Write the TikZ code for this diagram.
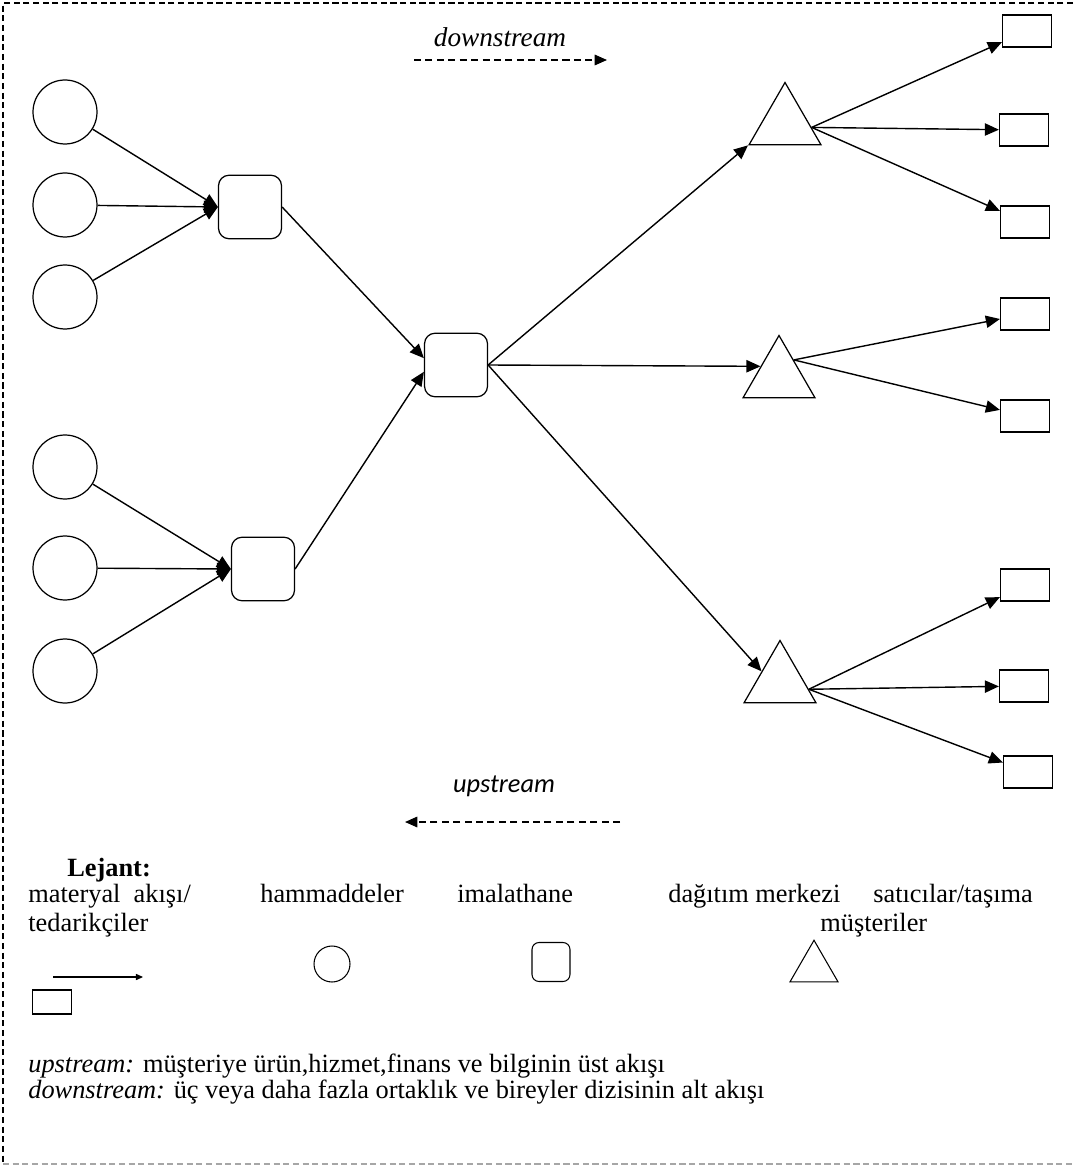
\documentclass[tikz,border=0pt]{standalone}
\usepackage{fontspec}
\setmainfont{Liberation Serif}
\newfontfamily\calibrifont{Carlito}
\usetikzlibrary{shapes.geometric, arrows.meta, calc}

\begin{document}
\begin{tikzpicture}[x=0.02cm, y=-0.02cm,
            hamm/.style={circle, draw, line width=0.7pt, minimum size=1.28cm, inner sep=0pt},
            imal/.style={rectangle, rounded corners=6pt, draw, line width=0.7pt,
                         minimum width=1.26cm, minimum height=1.27cm},
            dagit/.style={regular polygon, regular polygon sides=3, draw, line width=0.7pt,
                          minimum size=1.66cm, inner sep=0pt},
            must/.style={rectangle, draw, line width=0.7pt, minimum width=0.98cm, minimum height=0.64cm},
            arrow/.style={-{Triangle[length=8pt, width=7pt]}, line width=0.8pt},
            flow/.style={-{Triangle[length=7pt, width=6pt]}, line width=0.8pt, dash pattern=on 4pt off 2.5pt},
            border/.style={line width=0.6pt, dash pattern=on 3.5pt off 2pt},
            lbl/.style={font=\fontsize{15}{17}\selectfont, inner sep=0pt, anchor=base west}
        ]
            \useasboundingbox (0,0) rectangle (1073,1168);

            % frame
            \draw[border] (1073,3) -- (3,3) -- (3,1164);
            \draw[border, gray!70] (3,1164) -- (1073,1164);

            % hammaddeler
            \node[hamm] (r1) at (65,112) {};
            \node[hamm] (r2) at (65,205) {};
            \node[hamm] (r3) at (65,297) {};
            \node[hamm] (r4) at (65,467) {};
            \node[hamm] (r5) at (65,568) {};
            \node[hamm] (r6) at (65,671) {};

            % imalathaneler
            \node[imal] (m1) at (250,207) {};
            \node[imal] (m2) at (263,569) {};
            \node[imal] (m3) at (456,365) {};

            % dagitim merkezleri
            \node[dagit] (d1) at (785,124) {};
            \node[dagit] (d2) at (779,377) {};
            \node[dagit] (d3) at (780,682) {};
            \coordinate (d1o) at ($(d1.corner 1)!0.72!(d1.corner 3)$);
            \coordinate (d2o) at ($(d2.corner 1)!0.4!(d2.corner 3)$);
            \coordinate (d3o) at ($(d3.corner 1)!0.78!(d3.corner 3)$);

            % musteriler
            \node[must] (c1) at (1027,31) {};
            \node[must] (c2) at (1024,130) {};
            \node[must] (c3) at (1025,222) {};
            \node[must] (c4) at (1025,314) {};
            \node[must] (c5) at (1025,416) {};
            \node[must] (c6) at (1025,585) {};
            \node[must] (c7) at (1024,686) {};
            \node[must] (c8) at (1028,772) {};

            \draw[arrow] (r1) -- (m1.west);
            \draw[arrow] (r2) -- (m1.west);
            \draw[arrow] (r3) -- (m1.west);
            \draw[arrow] (r4) -- (m2.west);
            \draw[arrow] (r5) -- (m2.west);
            \draw[arrow] (r6) -- (m2.west);

            \draw[arrow] (m1.east) -- (m3.168);
            \draw[arrow] (m2.east) -- (m3.192);

            \draw[arrow] (m3.east) -- (d1.corner 2);
            \draw[arrow] (m3.east) -- (d2.side 1);
            \draw[arrow] (m3.east) -- (d3.side 1);

            \draw[arrow] (d1o) -- (c1);
            \draw[arrow] (d1o) -- (c2);
            \draw[arrow] (d1o) -- (c3);
            \draw[arrow] (d2o) -- (c4);
            \draw[arrow] (d2o) -- (c5);
            \draw[arrow] (d3o) -- (c6);
            \draw[arrow] (d3o) -- (c7);
            \draw[arrow] (d3o) -- (c8);

            % akis yonleri
            \node[font=\fontsize{15.5}{17}\selectfont\itshape, inner sep=0pt, anchor=base] (downlbl) at (500,47) {downstream};
            \coordinate (ds1) at (414,60);
            \coordinate (ds2) at (607,60);
            \draw[flow] (ds1) -- (ds2);

            \node[font=\calibrifont\itshape\fontsize{15}{17}\selectfont, inner sep=0pt, anchor=base] (uplbl) at (504,792) {upstream};
            \coordinate (us1) at (620,822);
            \coordinate (us2) at (405,822);
            \draw[flow] (us1) -- (us2);

            % Lejant
            \node[lbl] (lejant) at (67,876) {\bfseries Lejant:};
            \node[lbl] (leg1) at (28,902) {materyal\ \ akışı/};
            \node[lbl] (leg1b) at (28,931) {tedarikçiler};
            \node[lbl] (leg2) at (260,902) {hammaddeler};
            \node[lbl] (leg3) at (457,902) {imalathane};
            \node[lbl] (leg4) at (668,902) {dağıtım merkezi};
            \node[lbl] (leg5) at (873,902) {satıcılar/taşıma};
            \node[lbl] (leg6) at (820,931) {müşteriler};

            \coordinate (la1) at (53,977);
            \coordinate (la2) at (143,977);
            \draw[-{Triangle[length=4pt, width=3.5pt]}, line width=0.6pt] (la1) -- (la2);
            \node[hamm, line width=0.6pt, minimum size=0.72cm] (lhamm) at (332,964) {};
            \node[imal, line width=0.6pt, rounded corners=4pt, minimum width=0.76cm, minimum height=0.78cm] (limal) at (551,962) {};
            \node[dagit, line width=0.6pt, minimum size=1.11cm] (ldagit) at (814,968) {};
            \node[must, line width=0.6pt, minimum width=0.78cm, minimum height=0.48cm] (lmust) at (52,1002) {};

            % tanimlar
            \node[lbl] (updef) at (28,1072)
                {\textit{upstream:} müşteriye ürün,hizmet,finans ve bilginin üst akışı};
            \node[lbl] (downdef) at (28,1098)
                {\textit{downstream:} üç veya daha fazla ortaklık ve bireyler dizisinin alt akışı};
        \end{tikzpicture}
\end{document}
